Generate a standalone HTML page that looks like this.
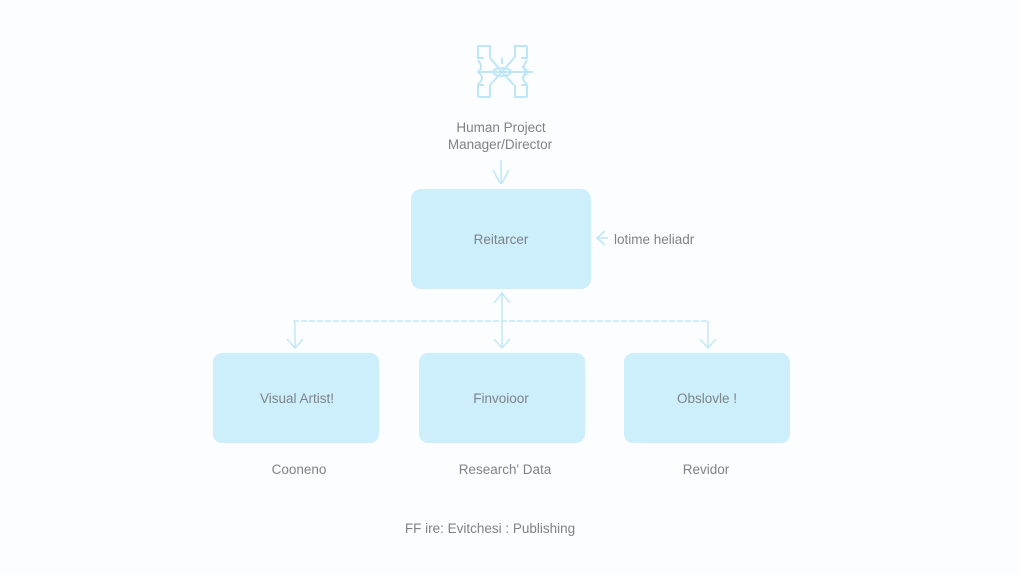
<!DOCTYPE html>
<html><head><meta charset="utf-8"><style>
html,body{margin:0;padding:0;background:#fdfefe;}
svg{display:block;}
text{font-family:"Liberation Sans",sans-serif;fill:#7d8388;}
</style></head><body>
<svg width="1020" height="574" viewBox="0 0 1020 574" xmlns="http://www.w3.org/2000/svg">
<rect width="1020" height="574" fill="#fcfdfe"/>
<!-- icon -->
<g stroke="#bfe6f6" stroke-width="2" fill="none">
<path d="M478 46h12v12M478 46v12h6"/>
<path d="M527 46h-12v12M527 46v12h-6"/>
<path d="M478 97h12v-12M478 97v-12h6"/>
<path d="M527 97h-12v-12M527 97v-12h-6"/>
<path d="M478 60q6 8 0 12q8 6 0 12M527 60q-6 8 0 12q-8 6 0 12"/>
<path d="M490 58l12 14l12-14M490 85l12-13l12 13"/>
<ellipse cx="502" cy="72" rx="9" ry="4"/>
<path d="M478 72h55M502 58v6M522 66l6 6l-6 6"/>
</g>
<text x="501" y="132" font-size="13.5" text-anchor="middle">Human Project</text>
<text x="500" y="149" font-size="13.5" text-anchor="middle">Manager/Director</text>
<g stroke="#bfe6f6" stroke-width="1.5" fill="none">
<path d="M501 160v24M493 170l7 13M509 170l-7 13"/>
</g>
<rect x="411" y="189" width="180" height="100" rx="10" fill="#cdeefb"/>
<text x="501" y="244" font-size="13.5" text-anchor="middle">Reitarcer</text>
<g stroke="#bfe6f6" stroke-width="1.5" fill="none">
<path d="M605 231l-8 7l8 7M598 238h10"/>
</g>
<text x="614" y="244" font-size="13.5">lotime heliadr</text>
<!-- connectors -->
<g stroke="#c4e8f7" stroke-width="1.5" fill="none">
<path d="M293 321H708" stroke-dasharray="6 2"/>
<path d="M295 321v27M287 339l8 9l8-9"/>
<path d="M502 293v55M494 303l8-10l8 10M494 339l8 9l8-9"/>
<path d="M708 321v27M700 339l8 9l8-9"/>
</g>
<rect x="213" y="353" width="166" height="90" rx="9" fill="#cdeefb"/>
<rect x="419" y="353" width="166" height="90" rx="9" fill="#cdeefb"/>
<rect x="624" y="353" width="166" height="90" rx="9" fill="#cdeefb"/>
<text x="297" y="403" font-size="13.5" text-anchor="middle">Visual Artist!</text>
<text x="501" y="403" font-size="13.5" text-anchor="middle">Finvoioor</text>
<text x="707" y="403" font-size="13.5" text-anchor="middle">Obslovle !</text>
<text x="299" y="474" font-size="13.5" text-anchor="middle">Cooneno</text>
<text x="505" y="474" font-size="13.5" text-anchor="middle">Research' Data</text>
<text x="706" y="474" font-size="13.5" text-anchor="middle">Revidor</text>
<text x="490" y="533" font-size="13.5" text-anchor="middle">FF ire: Evitchesi : Publishing</text>
</svg>
</body></html>
